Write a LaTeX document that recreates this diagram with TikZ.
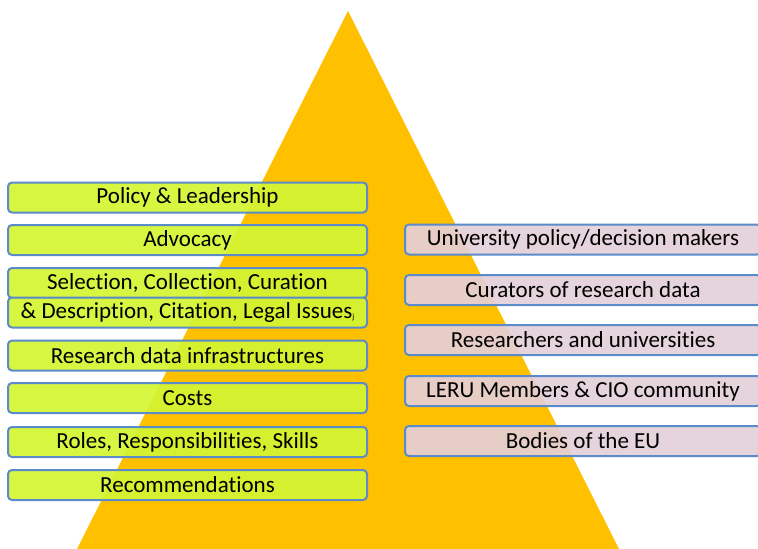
\documentclass[tikz,border=0pt]{standalone}
\usepackage{fontspec}
\setmainfont[Ligatures=NoCommon]{Carlito}
\begin{document}
\begin{tikzpicture}[x=1pt,y=-1pt,
  topic/.style={draw=boxblue, line width=2pt, rounded corners=4pt,
    fill=lime, fill opacity=0.92, text opacity=1,
    minimum width=359pt, minimum height=30pt, inner sep=0pt,
    font=\fontsize{23}{26}\selectfont},
  audience/.style={draw=boxblue, line width=2pt, rounded corners=4pt,
    fill=rosefill, fill opacity=0.92, text opacity=1,
    minimum width=356pt, minimum height=30pt, inner sep=0pt,
    font=\fontsize{23}{26}\selectfont}]
\definecolor{gold}{HTML}{FFC000}
\definecolor{boxblue}{HTML}{5B8BC8}
\definecolor{lime}{HTML}{D2F532}
\definecolor{rosefill}{HTML}{E4D0D9}
\useasboundingbox (0,0) rectangle (758,549);

% pyramid in the background
\fill[gold] (348,11) -- (619,549) -- (77,549) -- cycle;

% topics on the left
\node[topic] (pol) at (187.5,197.5) {Policy \& Leadership};
\node[topic] (adv) at (187.5,240) {Advocacy};
\node[topic] (sel) at (187.5,283) {Selection, Collection, Curation};
\node[topic] (des) at (187.5,312.5) {\& Description, Citation, Legal Issues{\fontsize{8}{9}\selectfont\raisebox{-1pt}{j}}};
\node[topic] (inf) at (187.5,355.5) {Research data infrastructures};
\node[topic] (cost) at (187.5,398) {Costs};
\node[topic] (rol) at (187.5,442) {Roles, Responsibilities, Skills};
\node[topic] (rec) at (187.5,485) {Recommendations};

% audiences on the right
\node[audience] (uni) at (583,239.5) {University policy/decision makers};
\node[audience] (cur) at (583,290) {Curators of research data};
\node[audience] (res) at (583,340) {Researchers and universities};
\node[audience] (leru) at (583,391) {LERU Members \& CIO community};
\node[audience] (eu) at (583,441) {Bodies of the EU};
\end{tikzpicture}
\end{document}
